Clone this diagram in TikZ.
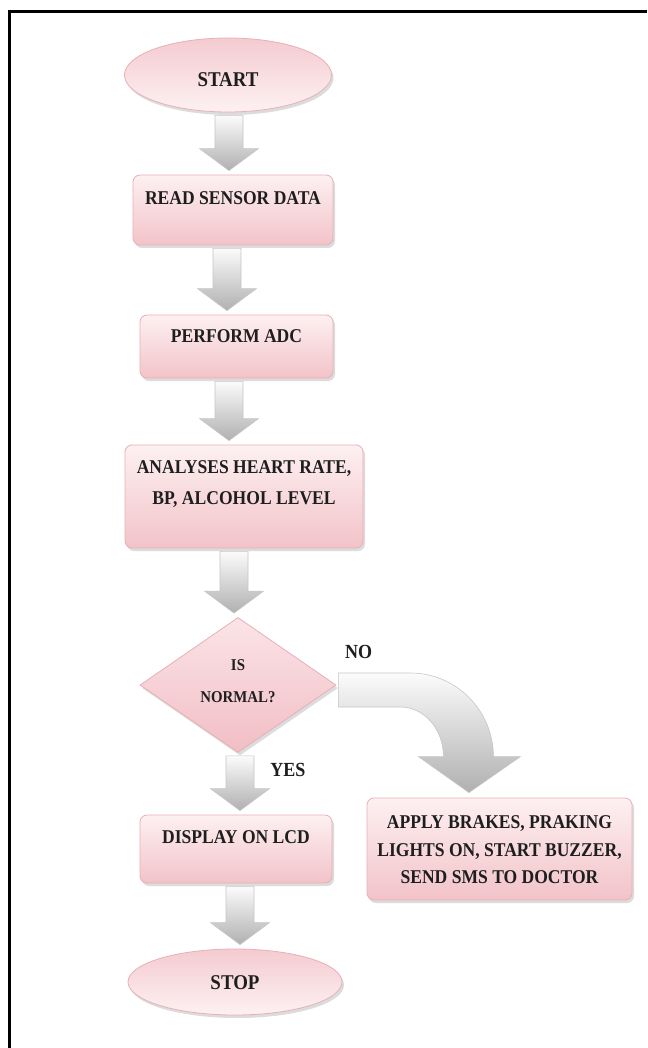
\documentclass[tikz,border=0pt]{standalone}
\usepackage{fontspec}
\setmainfont{Liberation Serif}[FakeStretch=0.9]
\usetikzlibrary{shapes.geometric,shadows,calc}
\definecolor{boxtop}{HTML}{FDF0F1}
\definecolor{boxbot}{HTML}{F2C3C9}
\definecolor{boxline}{HTML}{E7B0B7}
\definecolor{elltop}{HTML}{F4CBD1}
\definecolor{ellbot}{HTML}{FDF1F2}
\definecolor{diatop}{HTML}{FBE4E7}
\definecolor{diabot}{HTML}{F1BEC5}
\definecolor{txt}{HTML}{1E1E1E}
\newcommand\tx[2]{\raisebox{#1}[0pt][0pt]{\begin{tabular}{@{}c@{}}#2\end{tabular}}}
% block arrow between two named nodes: [x offset]{from}{to}
\newcommand\barrow[3][0pt]{%
  \path[blockarrow] let \p1=(#2.south), \p2=(#3.north) in
    (\x1+#1-14pt,\y1-3pt) -- (\x1+#1+14pt,\y1-3pt)
    -- (\x1+#1+14pt,\y2+26pt) -- (\x1+#1+29.5pt,\y2+26pt)
    -- (\x1+#1,\y2+4pt)
    -- (\x1+#1-29.5pt,\y2+26pt) -- (\x1+#1-14pt,\y2+26pt) -- cycle;}
\begin{document}
\begin{tikzpicture}[x=1pt,y=-1pt,
  every node/.style={inner sep=0pt, text=txt},
  shadowed/.style={drop shadow={shadow xshift=2pt, shadow yshift=-3pt, fill=black!45, opacity=0.3}},
  procbox/.style={rectangle, rounded corners=7pt, draw=boxline, line width=0.8pt,
    top color=boxtop, bottom color=boxbot, shadowed,
    font=\bfseries\fontsize{19.5}{31}\selectfont},
  termell/.style={ellipse, draw=boxline, line width=0.8pt,
    top color=elltop, bottom color=ellbot, shadowed,
    font=\bfseries\fontsize{21}{25}\selectfont},
  decis/.style={diamond, draw=boxline, line width=0.8pt,
    top color=diatop, bottom color=diabot, shadowed,
    font=\bfseries\fontsize{16.5}{32}\selectfont},
  blockarrow/.style={draw=gray!45, line width=0.6pt, top color=gray!3, bottom color=gray!62},
  lbl/.style={font=\bfseries\fontsize{20}{24}\selectfont}]
\useasboundingbox (0,0) rectangle (647,1048);
\fill[white] (0,0) rectangle (647,1048);
\draw[line width=3pt, line join=miter] (9.5,1048) -- (9.5,11.5) -- (647,11.5);

\node[termell, minimum width=207, minimum height=74] (start) at (228,75) {\tx{-12pt}{START}};
\node[procbox, minimum width=200, minimum height=70] (read) at (233,210) {\tx{7pt}{READ SENSOR DATA}};
\node[procbox, minimum width=193, minimum height=63] (adc) at (236.5,346.5) {\tx{5pt}{PERFORM ADC}};
\node[procbox, minimum width=238, minimum height=103] (analyse) at (244,496.5) {\tx{9pt}{ANALYSES HEART RATE,\\BP, ALCOHOL LEVEL}};
\node[decis, minimum width=196, minimum height=135] (dia) at (238,685) {\tx{0.8pt}{IS\\NORMAL?}};
\node[procbox, minimum width=192, minimum height=68] (display) at (236,849) {\tx{7pt}{DISPLAY ON LCD}};
\node[termell, minimum width=214, minimum height=66] (stop) at (235,982) {\tx{-7.25pt}{STOP}};
\node[procbox, minimum width=265, minimum height=102, font=\bfseries\fontsize{19.5}{27.5}\selectfont] (apply) at (499.5,849) {\tx{-7pt}{APPLY BRAKES, PRAKING\\LIGHTS ON, START BUZZER,\\SEND SMS TO DOCTOR}};

\node[lbl] (no) at (358.5,652) {NO};
\node[lbl] (yes) at (288,770) {YES};

\barrow[1pt]{start}{read}
\barrow[-6pt]{read}{adc}
\barrow[-7.5pt]{adc}{analyse}
\barrow[-10pt]{analyse}{dia}
\barrow[2pt]{dia}{display}
\barrow[4pt]{display}{stop}

% curved block arrow from the decision to the right-hand box
\path[blockarrow] let \p1=(dia.east), \p2=(apply.north) in
  (\x1+2pt,\y1+12pt) -- (\x1+74pt,\y1+12pt)
  .. controls (\x1+119.8pt,\y1+12pt) and (\x1+157pt,\y1-25.6pt) .. (\x1+157pt,\y2+41pt)
  -- (\x1+184pt,\y2+41pt) -- (\x2-30.5pt,\y2+5pt) -- (\x1+82pt,\y2+41pt)
  -- (\x1+107pt,\y2+41pt)
  .. controls (\x1+107pt,\y2+68.6pt) and (\x1+87.7pt,\y1-22pt) .. (\x1+64pt,\y1-22pt)
  -- (\x1+2pt,\y1-22pt) -- cycle;
\end{tikzpicture}
\end{document}
